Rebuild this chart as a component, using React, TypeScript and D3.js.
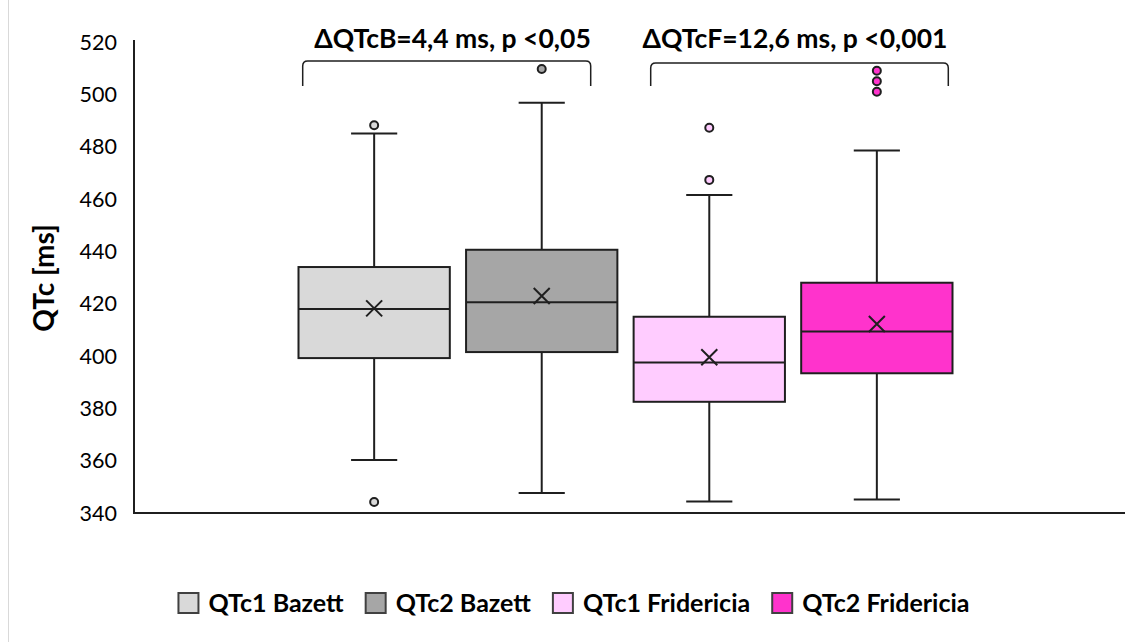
import { useEffect, useRef } from "react";
import * as d3 from "d3";

// box plot statistics (ms)
const series = ["QTc1 Bazett", "QTc2 Bazett", "QTc1 Fridericia", "QTc2 Fridericia"];
const whiskerLow = [360.3, 347.6, 344.4, 345.2];
const q1 = [399.2, 401.5, 382.5, 393.4];
const median = [418.0, 420.5, 397.5, 409.4];
const q3 = [434.0, 440.6, 415.0, 428.0];
const whiskerHigh = [485.0, 496.8, 461.5, 478.5];
const means = [418.2, 422.9, 399.5, 412.2];
const outliers = [[488.2, 344.2], [509.7], [467.3, 487.2], [501.0, 505.0, 509.0]];
const fills = ["#d9d9d9", "#a6a6a6", "#ffccff", "#ff33cc"];
const yTicks = [340, 360, 380, 400, 420, 440, 460, 480, 500, 520];
const annotations = ["ΔQTcB=4,4 ms, p <0,05", "ΔQTcF=12,6 ms, p <0,001"];

const W = 1138;
const H = 642;
const FONT = "Lato, Carlito, Calibri, sans-serif";
const INK = "#1f1f1f";

const App = () => {
  const ref = useRef<SVGSVGElement | null>(null);

  useEffect(() => {
    const svg = d3.select(ref.current);
    svg.selectAll("*").remove();

    const y = d3.scaleLinear().domain([340, 520]).range([513, 42]);
    const x = d3.scaleBand().domain(series).range([298.5, 952.5]).paddingInner(0.097);
    const bw = x.bandwidth();
    const cx = (i) => (x(series[i]) as number) + bw / 2;
    const capW = bw * 0.305;

    svg.append("rect").attr("width", W).attr("height", H).attr("fill", "#fff");
    // faint frame edge on the left
    svg.append("line").attr("x1", 8.5).attr("x2", 8.5).attr("y1", 0).attr("y2", H)
      .attr("stroke", "#d9d9d9").attr("stroke-width", 1);

    // axes
    svg.append("line").attr("x1", 134).attr("x2", 134).attr("y1", y(520) - 2).attr("y2", y(340))
      .attr("stroke", INK).attr("stroke-width", 2);
    svg.append("line").attr("x1", 133).attr("x2", 1125).attr("y1", y(340)).attr("y2", y(340))
      .attr("stroke", INK).attr("stroke-width", 2);

    svg.append("g").selectAll("text").data(yTicks).enter().append("text")
      .attr("x", 117).attr("y", (d) => y(d)).attr("dy", "0.36em")
      .attr("text-anchor", "end").attr("font-family", FONT).attr("font-size", 21.5)
      .attr("fill", "#000").text((d) => d);

    svg.append("text")
      .attr("transform", `translate(54, 278) rotate(-90)`)
      .attr("text-anchor", "middle").attr("font-family", FONT).attr("font-size", 28)
      .attr("font-weight", "bold").attr("fill", "#000").text("QTc [ms]");

    // boxes
    const g = svg.append("g");
    series.forEach((s, i) => {
      const c = cx(i);
      const left = x(s) as number;
      const wl = [[c, y(whiskerLow[i])], [c, y(q1[i])]];
      const wh = [[c, y(q3[i])], [c, y(whiskerHigh[i])]];
      [wl, wh].forEach((seg) => {
        g.append("line").attr("x1", seg[0][0]).attr("y1", seg[0][1]).attr("x2", seg[1][0]).attr("y2", seg[1][1])
          .attr("stroke", INK).attr("stroke-width", 2);
      });
      [whiskerLow[i], whiskerHigh[i]].forEach((v) => {
        g.append("line").attr("x1", c - capW / 2).attr("x2", c + capW / 2).attr("y1", y(v)).attr("y2", y(v))
          .attr("stroke", INK).attr("stroke-width", 2);
      });
      g.append("rect").attr("x", left).attr("y", y(q3[i])).attr("width", bw)
        .attr("height", y(q1[i]) - y(q3[i])).attr("fill", fills[i])
        .attr("stroke", INK).attr("stroke-width", 2);
      g.append("line").attr("x1", left).attr("x2", left + bw).attr("y1", y(median[i])).attr("y2", y(median[i]))
        .attr("stroke", INK).attr("stroke-width", 2);
      // mean marker
      const m = y(means[i]);
      const r = 8;
      g.append("path").attr("d", `M${c - r},${m - r}L${c + r},${m + r}M${c - r},${m + r}L${c + r},${m - r}`)
        .attr("stroke", INK).attr("stroke-width", 2).attr("fill", "none");
      g.selectAll(null).data(outliers[i]).enter().append("circle")
        .attr("cx", c).attr("cy", (d) => y(d)).attr("r", 4)
        .attr("fill", fills[i]).attr("stroke", INK).attr("stroke-width", 2);
    });

    // significance brackets
    const brackets = [
      { x0: 302.7, x1: 590.7, top: 61, tx: 452.5 },
      { x0: 650.7, x1: 948.3, top: 63, tx: 795 },
    ];
    brackets.forEach((b, i) => {
      const rr = 5;
      svg.append("path")
        .attr("d", `M${b.x0},86V${b.top + rr}Q${b.x0},${b.top} ${b.x0 + rr},${b.top}H${b.x1 - rr}Q${b.x1},${b.top} ${b.x1},${b.top + rr}V86`)
        .attr("fill", "none").attr("stroke", INK).attr("stroke-width", 1.5);
      svg.append("text").attr("x", b.tx).attr("y", 48).attr("text-anchor", "middle")
        .attr("font-family", FONT).attr("font-size", 26.5).attr("font-weight", "bold")
        .attr("fill", "#000").text(annotations[i]);
    });

    // legend
    const legend = svg.append("g");
    const sq = 20;
    let pos = 0;
    const items = series.map((s, i) => {
      const it = legend.append("g");
      it.append("rect").attr("x", 0).attr("y", -sq / 2).attr("width", sq).attr("height", sq)
        .attr("fill", fills[i]).attr("stroke", "#404040").attr("stroke-width", 2);
      const t = it.append("text").attr("x", sq + 10).attr("y", 0).attr("dy", "0.36em")
        .attr("font-family", FONT).attr("font-size", 25).attr("font-weight", "bold")
        .attr("fill", "#000").text(s);
      const tw = (t.node() as SVGTextElement).getComputedTextLength();
      const start = pos;
      pos += sq + 10 + tw + 22;
      return { it, start };
    });
    const total = pos - 22;
    const lx = 574 - total / 2;
    items.forEach(({ it, start }) => it.attr("transform", `translate(${lx + start}, 603)`));
  }, []);

  return (
    <svg ref={ref} width={W} height={H} style={{ position: "absolute", left: 0, top: 0 }} />
  );
};

export default App;
